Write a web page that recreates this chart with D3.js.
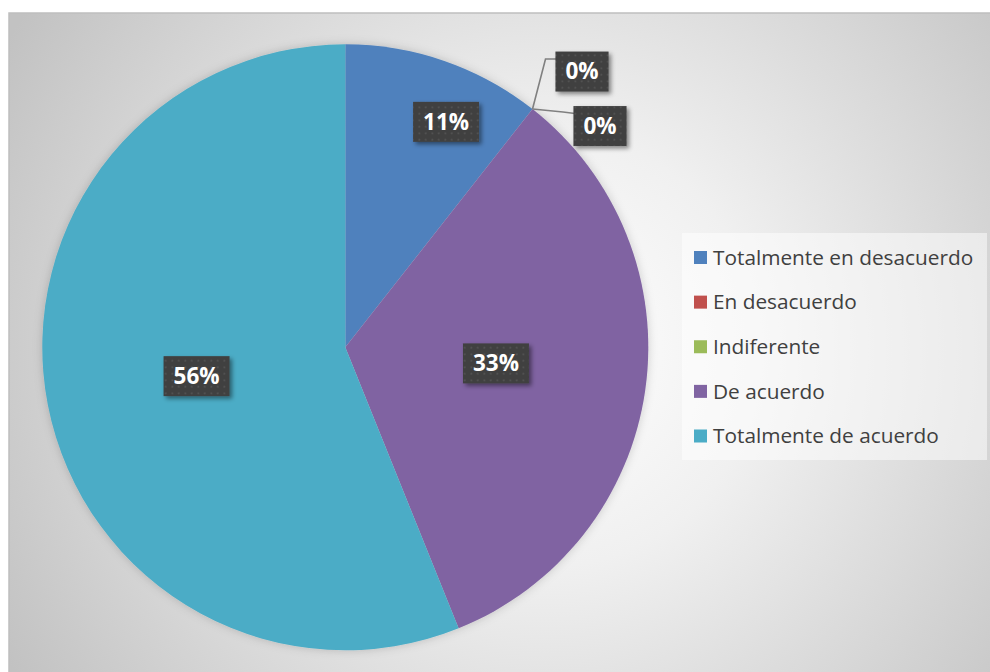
<!DOCTYPE html>
<html>
<head>
<meta charset="utf-8">
<script src="https://cdn.jsdelivr.net/npm/d3@7/dist/d3.min.js"></script>
<style>
html,body{margin:0;padding:0;background:#fff;}
svg{display:block;}
</style>
</head>
<body>
<svg id="chart" width="990" height="672"></svg>
<script>
const categories = ["Totalmente en desacuerdo","En desacuerdo","Indiferente","De acuerdo","Totalmente de acuerdo"];
const values = [10.6, 0, 0, 33.3, 56.1];
const colors = ["#4f81bd","#c0504d","#9bbb59","#8064a2","#4bacc6"];

// label placement (layout only)
const labelLayout = [
  {type:"in", rFrac:0.815, shiftDeg:5},
  {type:"out", elbow:[13,-50], box:[49.5,-37.5]},
  {type:"out", elbow:[30.5,3], box:[67.5,17]},
  {type:"in", rFrac:0.5, shiftDeg:-2},
  {type:"in", rFrac:0.5, shiftDeg:0}
];

const svg = d3.select("#chart");
const W = 990, H = 672;
const defs = svg.append("defs");

const rg = defs.append("radialGradient").attr("id","bg")
  .attr("gradientUnits","userSpaceOnUse").attr("cx",545).attr("cy",350).attr("r",620);
rg.append("stop").attr("offset","0%").attr("stop-color","#ffffff");
rg.append("stop").attr("offset","35%").attr("stop-color","#f0f0f0");
rg.append("stop").attr("offset","100%").attr("stop-color","#c2c2c2");

const pat = defs.append("pattern").attr("id","dots").attr("patternUnits","userSpaceOnUse")
  .attr("width",6.5).attr("height",6.5);
pat.append("rect").attr("width",6.5).attr("height",6.5).attr("fill","#404040");
pat.append("rect").attr("x",2.5).attr("y",2.5).attr("width",1.6).attr("height",1.6).attr("fill","#585858");

const sh = defs.append("filter").attr("id","boxShadow").attr("x","-30%").attr("y","-30%").attr("width","160%").attr("height","160%");
sh.append("feDropShadow").attr("dx",2.5).attr("dy",2.5).attr("stdDeviation",2).attr("flood-color","#000").attr("flood-opacity",0.45);

const psh = defs.append("filter").attr("id","pieShadow").attr("x","-10%").attr("y","-10%").attr("width","120%").attr("height","120%");
psh.append("feDropShadow").attr("dx",0).attr("dy",0).attr("stdDeviation",5).attr("flood-color","#000").attr("flood-opacity",0.18);

// chart area
svg.append("rect").attr("x",9).attr("y",13).attr("width",W).attr("height",H)
  .attr("fill","url(#bg)").attr("stroke","#bfbfbf").attr("stroke-width",1.5);

const cx = 345.3, cy = 347.3, R = 303;
const pie = d3.pie().sort(null).value(d=>d);
const arcs = pie(values);
const arc = d3.arc().innerRadius(0).outerRadius(R);

const g = svg.append("g").attr("transform",`translate(${cx},${cy})`);
g.append("g").attr("filter","url(#pieShadow)")
  .selectAll("path").data(arcs).join("path")
  .attr("d",arc).attr("fill",(d,i)=>colors[i]);

// leader lines & labels
const lab = svg.append("g");
arcs.forEach((d,i)=>{
  const L = labelLayout[i];
  const pct = Math.round(d.value / d3.sum(values) * 100) + "%";
  let bx, by;
  if (L.type === "in") {
    const a = (d.startAngle + d.endAngle)/2 + L.shiftDeg*Math.PI/180;
    bx = cx + Math.sin(a)*R*L.rFrac;
    by = cy - Math.cos(a)*R*L.rFrac;
  } else {
    const a = d.startAngle;
    const ax = cx + Math.sin(a)*R, ay = cy - Math.cos(a)*R;
    bx = ax + L.box[0]; by = ay + L.box[1];
    const ex = ax + L.elbow[0], ey = ay + L.elbow[1];
    lab.append("path")
      .attr("d", `M${ax},${ay}L${ex},${ey}L${bx-25},${ey+ (L.box[1]<0?0:1.5)}`)
      .attr("fill","none").attr("stroke","#808080").attr("stroke-width",1.6);
  }
  const t = lab.append("text").attr("x",bx).attr("y",by).attr("dy","0.35em")
    .attr("text-anchor","middle").attr("font-family","'Open Sans', sans-serif")
    .attr("font-weight","bold").attr("font-size",22.5).attr("fill","#fff").text(pct);
  const tw = t.node().getComputedTextLength();
  const bw = tw + 20, bh = 40;
  lab.insert("rect", function(){ return t.node(); })
    .attr("x",bx-bw/2).attr("y",by-bh/2).attr("width",bw).attr("height",bh)
    .attr("fill","url(#dots)").attr("filter","url(#boxShadow)");
});

// legend
const lg = svg.append("g");
lg.append("rect").attr("x",682).attr("y",233).attr("width",305).attr("height",227)
  .attr("fill","#ffffff").attr("fill-opacity",0.5);
const legY = d3.scalePoint().domain(categories).range([257.5,436]);
categories.forEach((c,i)=>{
  const y = legY(c);
  lg.append("rect").attr("x",694).attr("y",y-6.5).attr("width",13).attr("height",13).attr("fill",colors[i]);
  lg.append("text").attr("x",713).attr("y",y).attr("dy","0.35em")
    .attr("font-family","'Open Sans', sans-serif").attr("font-size",20.8)
    .attr("fill","#404040").text(c);
});
</script>
</body>
</html>
